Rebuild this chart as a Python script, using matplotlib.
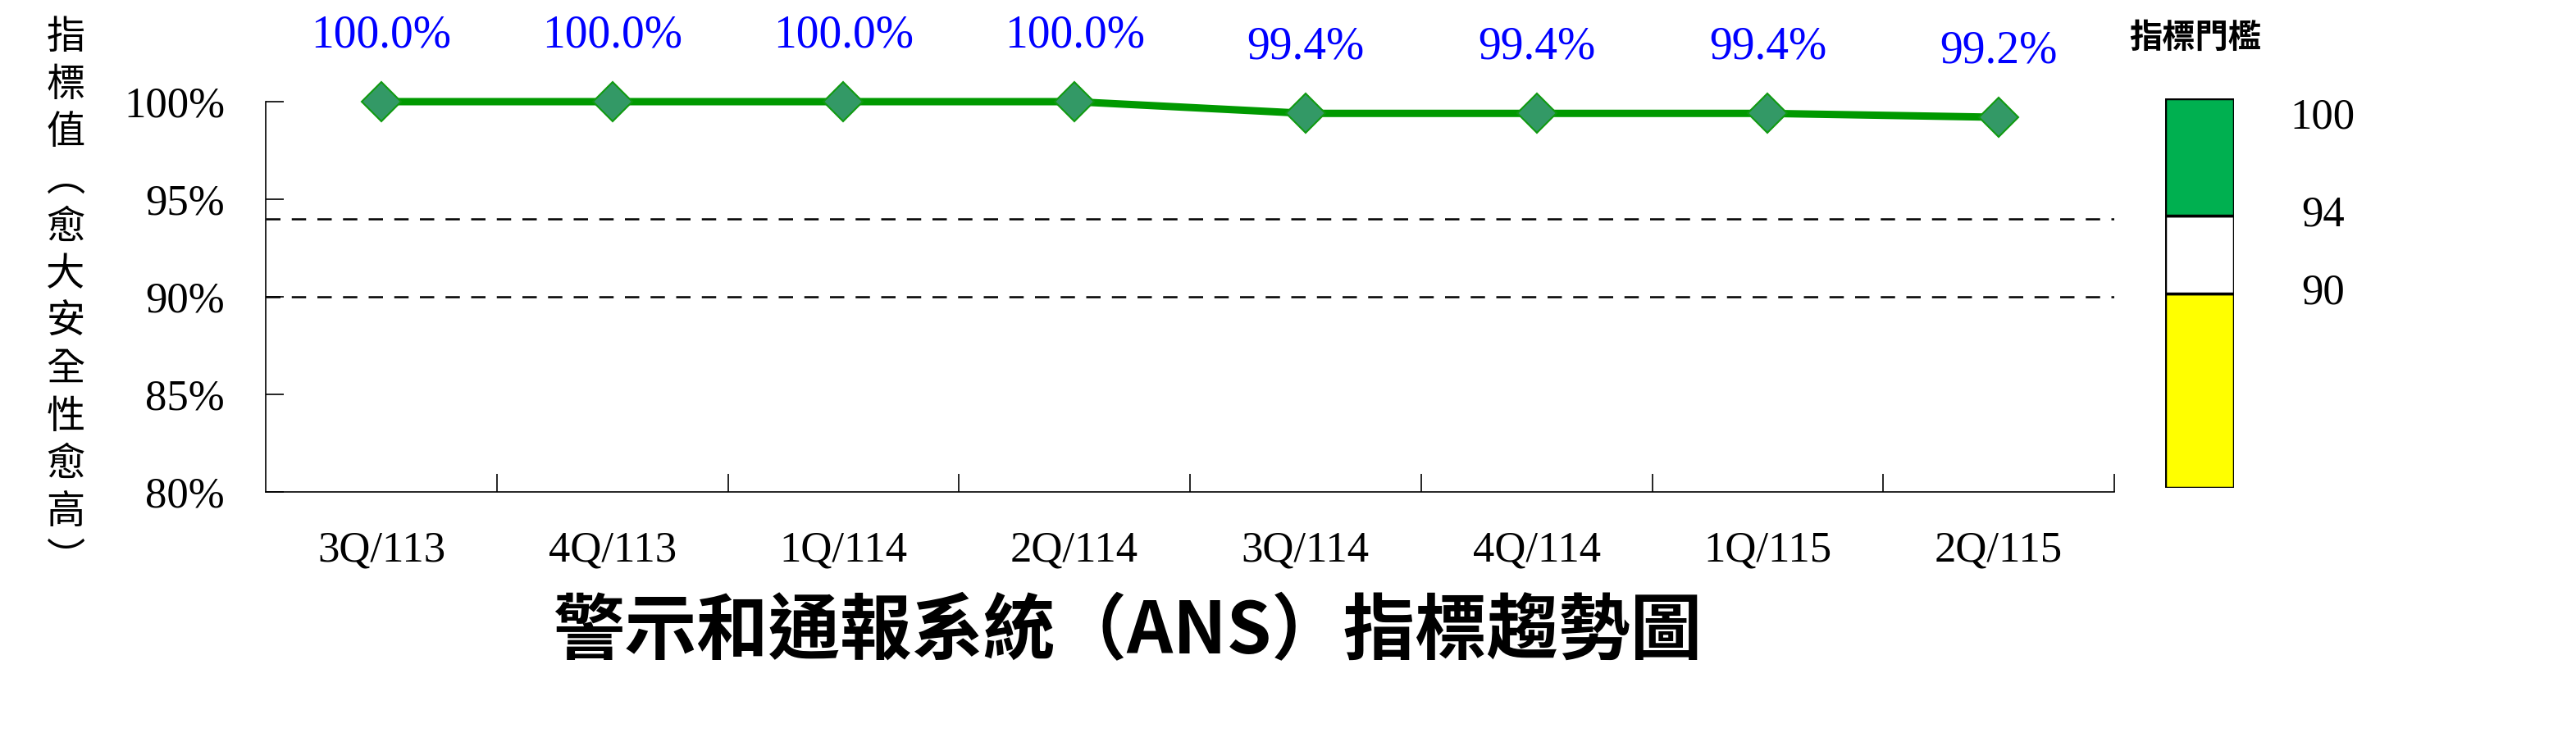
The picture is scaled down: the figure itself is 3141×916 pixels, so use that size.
import matplotlib
matplotlib.use("Agg")
import matplotlib.pyplot as plt
import matplotlib.transforms as mtransforms

# ---- data ----
categories = ["3Q/113", "4Q/113", "1Q/114", "2Q/114", "3Q/114", "4Q/114", "1Q/115", "2Q/115"]
values = [100.0, 100.0, 100.0, 100.0, 99.4, 99.4, 99.4, 99.2]
yticks = [80, 85, 90, 95, 100]
threshold_lines = [94, 90]
legend_bounds = [80, 90, 94, 100]
legend_colors = ["#FFFF00", "#FFFFFF", "#00B050"]
legend_labels = ["100", "94", "90"]
legend_label_pos = [99.0, 94, 90]
title = "警示和通報系統（ANS）指標趨勢圖"
ylabel = "指標值︵愈大安全性愈高︶"
legend_title = "指標門檻"

serif = ["Liberation Serif", "DejaVu Serif"]
cjk = ["Noto Sans CJK TC", "DejaVu Sans"]

W, H = 3141, 916
fig = plt.figure(figsize=(W / 100, H / 100), dpi=100)
fig.patch.set_facecolor("white")

ax = fig.add_axes([324 / W, 1 - 600 / H, (2578 - 324) / W, (600 - 124) / H])
x = list(range(len(categories)))

for t in threshold_lines:
    ax.axhline(t, color="black", lw=1.8, linestyle=(0, (7, 5.5)), zorder=1)

ax.plot(x, values, color="#009900", lw=6.5, marker="D", markersize=24,
        markerfacecolor="#339966", markeredgecolor="#109A10", markeredgewidth=1.5,
        clip_on=False, zorder=3, solid_joinstyle="miter")

for xi, v in zip(x, values):
    ax.annotate(f"{v:.1f}%", (xi, v), xytext=(0, 58), textcoords="offset points",
                ha="center", va="center", color="#0000FF", fontsize=40,
                family=serif, annotation_clip=False)

ax.set_xlim(-0.5, len(categories) - 0.5)
ax.set_ylim(80, 100)
ax.set_yticks(yticks)
ax.set_yticklabels([f"{t}%" for t in yticks], family=serif, fontsize=38)
ax.set_xticks(x)
ax.set_xticklabels(categories, family=serif, fontsize=38)
ax.set_xticks([i + 0.5 for i in range(len(categories))], minor=True)
ax.tick_params(axis="x", which="major", length=0, pad=34)
ax.tick_params(axis="x", which="minor", direction="in", length=16, width=1.2)
ax.tick_params(axis="y", which="major", direction="in", length=16, width=1.2, pad=36)
for s in ["top", "right"]:
    ax.spines[s].set_visible(False)
for s in ["left", "bottom"]:
    ax.spines[s].set_linewidth(1.2)

# y label (vertical stacked characters)
fig.text(80 / W, 1 - 364 / H, "\n".join(ylabel), family=cjk, fontsize=34,
         ha="center", va="center", linespacing=1.25)

# title
fig.text((680 + 2070) / 2 / W, 1 - 772 / H, title, family=cjk, fontsize=63,
         fontweight="bold", ha="center", va="center")

# legend box
lax = fig.add_axes([2640 / W, 1 - 595 / H, 84 / W, (595 - 120) / H])
for i, c in enumerate(legend_colors):
    lax.bar(0, legend_bounds[i + 1] - legend_bounds[i], bottom=legend_bounds[i],
            width=1, color=c, edgecolor="black", linewidth=2.5)
lax.set_xlim(-0.5, 0.5)
lax.set_ylim(80, 100)
lax.axis("off")
tr = mtransforms.blended_transform_factory(lax.transAxes, lax.transData)
for lab, pos in zip(legend_labels, legend_label_pos):
    lax.text(2.29, pos, lab, transform=tr, family=serif, fontsize=38,
             ha="center", va="center", clip_on=False)
fig.text(2677 / W, 1 - 46 / H, legend_title, family=cjk, fontsize=29,
         fontweight="bold", ha="center", va="center")

fig.savefig("out.png", dpi=100, facecolor="white")
